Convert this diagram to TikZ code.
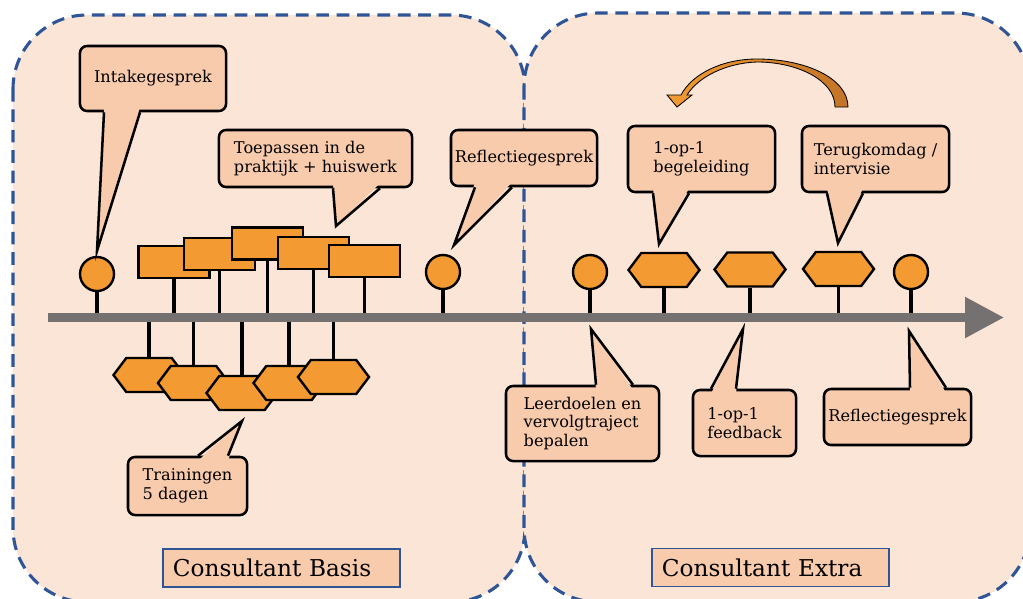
\documentclass[tikz,border=0pt]{standalone}
\usepackage{fontspec}
\setmainfont{DejaVu Serif}
\usetikzlibrary{shapes,arrows.meta,calc}

\definecolor{fondclair}{HTML}{FBE5D6}
\definecolor{bullefond}{HTML}{F8CBAD}
\definecolor{jalonfond}{HTML}{F39B32}
\definecolor{jalonfonce}{HTML}{C27426}
\definecolor{bordbleu}{HTML}{2F5597}
\definecolor{axegris}{HTML}{767171}

% pointe d'une bulle : nom, ancre, x gauche, x droite, pointe, retrait
\newcommand{\pointe}[6]{%
  \fill[bullefond] ($(#3,0 |- #1.#2)+(0,#6)$) -- (#5) -- ($(#4,0 |- #1.#2)+(0,#6)$) -- cycle;
  \draw[rand] (#3,0 |- #1.#2) -- (#5) -- (#4,0 |- #1.#2);}

\begin{document}
\begin{tikzpicture}[x=0.025cm,y=-0.025cm]
% style des zones
\tikzstyle{zone}=[draw=bordbleu,fill=fondclair,line width=2.2pt,dash pattern=on 9pt off 5.5pt,rounded corners=1.85cm]
% style des bulles
\tikzstyle{bulle}=[rectangle,draw,line width=1.8pt,fill=bullefond,rounded corners=5pt,align=left,inner sep=0pt,font=\fontsize{11.5}{13.2}\selectfont]
\tikzstyle{rand}=[line width=1.8pt]
\tikzstyle{titre}=[rectangle,draw=bordbleu,line width=1pt,fill=bullefond,minimum width=5.925cm,minimum height=0.95cm,inner xsep=0.25cm,text width=5.425cm,align=left,font=\fontsize{16.5}{19}\selectfont]
% style des jalons
\tikzstyle{rond}=[circle,draw,line width=1.7pt,fill=jalonfond,minimum size=0.85cm,inner sep=0pt]
\tikzstyle{panneau}=[rectangle,draw,line width=1.7pt,fill=jalonfond,minimum width=1.775cm,minimum height=0.8cm,inner sep=0pt]
\tikzstyle{hexa}=[signal,signal to=east and west,signal pointer angle=106,draw,line width=1.7pt,fill=jalonfond,minimum width=1.775cm,minimum height=0.85cm,inner sep=0pt]
\tikzstyle{tige}=[line width=2.7pt]
\tikzstyle{axe}=[draw=axegris,line width=6pt,-{Triangle[length=0.975cm,width=0.975cm]}]

\useasboundingbox (0,0) rectangle (1023,598);
\clip (0,0) rectangle (1023,598);

% zones
\draw[zone] (13,15) rectangle (525,602);
\draw[zone] (524,13) rectangle (1030,602);

% jalons au-dessus de l'axe
\node[rond] (c1) at (97,274) {};
\node[panneau] (r1) at (174,262) {};
\node[panneau] (r2) at (219.5,254) {};
\node[panneau] (r3) at (267.5,243.5) {};
\node[panneau] (r4) at (313.5,253) {};
\node[panneau] (r5) at (364.5,261) {};
\node[rond] (c2) at (443,272) {};
\node[rond] (c3) at (590,272) {};
\node[hexa] (h1) at (664,270) {};
\node[hexa] (h2) at (750,269.5) {};
\node[hexa] (h3) at (838.5,269) {};
\node[rond] (c4) at (911,272) {};

% jalons sous l'axe
\node[hexa] (b1) at (149,375) {};
\node[hexa] (b2) at (193.5,383) {};
\node[hexa] (b3) at (242,393) {};
\node[hexa] (b4) at (289,383) {};
\node[hexa] (b5) at (333.5,377) {};

% axe du temps
\coordinate (debut) at (48,317.5);
\coordinate (fin) at (1004,317.5);
\draw[tige] (c1.south) -- (c1.south |- debut);
\draw[tige] (r1.south) -- (r1.south |- debut);
\draw[tige] (r2.south) -- (r2.south |- debut);
\draw[tige] (r3.south) -- (r3.south |- debut);
\draw[tige] (r4.south) -- (r4.south |- debut);
\draw[tige] (r5.south) -- (r5.south |- debut);
\draw[tige] (c2.south) -- (c2.south |- debut);
\draw[tige] (c3.south) -- (c3.south |- debut);
\draw[tige] (h1.south) -- (h1.south |- debut);
\draw[tige] (h2.south) -- (h2.south |- debut);
\draw[tige] (h3.south) -- (h3.south |- debut);
\draw[tige] (c4.south) -- (c4.south |- debut);
\draw[tige] (b1.north) -- (b1.north |- debut);
\draw[tige] (b2.north) -- (b2.north |- debut);
\draw[tige] (b3.north) -- (b3.north |- debut);
\draw[tige] (b4.north) -- (b4.north |- debut);
\draw[tige] (b5.north) -- (b5.north |- debut);
\draw[axe] (debut) -- (fin);

% bulles du haut
\node[bulle,minimum width=3.65cm,minimum height=1.625cm] (intake) at (153,78.5) {Intakegesprek};
\node[bulle,minimum width=4.825cm,minimum height=1.425cm] (toepassen) at (315.5,158.5) {Toepassen in de\\praktijk + huiswerk};
\node[bulle,minimum width=3.65cm,minimum height=1.4cm] (reflectie) at (524,158) {Reflectiegesprek};
\node[bulle,minimum width=3.675cm,minimum height=1.65cm] (begeleiding) at (701.5,159) {1-op-1\\begeleiding};
\node[bulle,minimum width=3.675cm,minimum height=1.65cm] (terugkom) at (875.5,159) {Terugkomdag /\\intervisie};
\coordinate (intakepunt) at (97,251);
\coordinate (toepassenpunt) at (336,226);
\coordinate (reflectiepunt) at (454,245);
\coordinate (begeleidingpunt) at (659,244);
\coordinate (terugkompunt) at (838,243);
\pointe{intake}{south}{104}{140}{intakepunt}{-5}
\pointe{toepassen}{south}{333}{380}{toepassenpunt}{-5}
\pointe{reflectie}{south}{475}{512}{reflectiepunt}{-5}
\pointe{begeleiding}{south}{653}{689}{begeleidingpunt}{-5}
\pointe{terugkom}{south}{827}{863}{terugkompunt}{-5}

% bulles du bas
\node[bulle,minimum width=3.825cm,minimum height=1.875cm] (leerdoelen) at (582.5,423.5) {Leerdoelen en\\vervolgtraject\\bepalen};
\node[bulle,minimum width=2.575cm,minimum height=1.65cm] (feedback) at (744.5,423) {1-op-1\\feedback};
\node[bulle,minimum width=3.675cm,minimum height=1.4cm] (reflectiebis) at (897.5,417) {Reflectiegesprek};
\node[bulle,minimum width=2.975cm,minimum height=1.45cm] (trainingen) at (187.5,486) {Trainingen\\5 dagen};
\coordinate (leerdoelenpunt) at (591,329);
\coordinate (feedbackpunt) at (743,329);
\coordinate (reflectiebispunt) at (909,331);
\coordinate (trainingenpunt) at (242,421);
\pointe{leerdoelen}{north}{596}{633}{leerdoelenpunt}{5}
\pointe{feedback}{north}{711}{736}{feedbackpunt}{5}
\pointe{reflectiebis}{north}{910}{946}{reflectiebispunt}{5}
\pointe{trainingen}{north}{198}{228}{trainingenpunt}{5}

% fleche courbe
\shade[left color=jalonfond,right color=jalonfonce,draw=black,line width=0.6pt]
  (848,107) .. controls (848,78) and (805,59) .. (757,59)
  .. controls (722,59) and (692,74) .. (681,95) -- (667,95) -- (677,107) -- (692,95) -- (687,95)
  .. controls (698,77) and (726,63) .. (757,62)
  .. controls (797,62) and (835,80) .. (835,107) -- cycle;

% titres
\node[titre] (basis) at (281.5,568) {Consultant Basis};
\node[titre] (extra) at (770.5,567.5) {Consultant Extra};

\end{tikzpicture}
\end{document}
